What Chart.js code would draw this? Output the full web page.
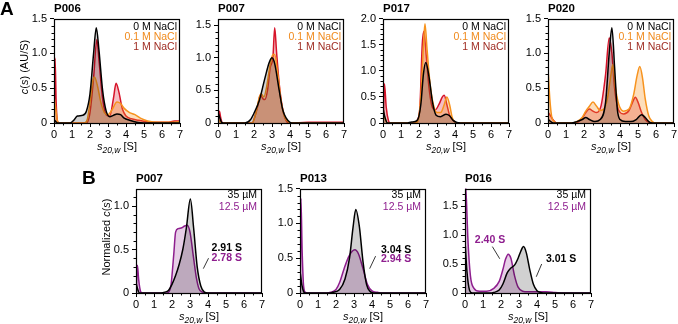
<!DOCTYPE html>
<html>
<head>
<meta charset="utf-8">
<script src="https://cdn.jsdelivr.net/npm/chart.js@4"></script>
<style>
  html, body { margin: 0; padding: 0; background: #fff; }
  #fig { position: relative; width: 678px; height: 324px; overflow: hidden; font-family: "Liberation Sans", Arial, sans-serif; color: #000; }
  #fig canvas { position: absolute; }
  .txt { position: absolute; white-space: nowrap; }
  .letter { font-weight: bold; font-size: 19px; }
  .ptitle { font-weight: bold; font-size: 11.5px; line-height: 14px; }
  .xtitle { font-size: 11px; line-height: 14px; text-align: center; }
  .xtitle sub { font-size: 8.5px; font-style: italic; vertical-align: -3px; }
  .ytitle { font-size: 11px; line-height: 14px; transform: translate(-50%, -50%) rotate(-90deg); }
</style>
</head>
<body>
<div id="fig"></div>
<script>
// x values in S, y values in c(s)
var xTicks = [0, 1, 2, 3, 4, 5, 6, 7];

// A: P006
var p006_0M = [[0,0.05],[0.1,0.02],[0.2,0],[0.9,0],[1.1,0.04],[1.3,0.1],[1.6,0.11],[1.8,0.17],[2.0,0.42],[2.2,1.0],[2.35,1.37],[2.5,1.04],[2.7,0.47],[2.9,0.17],[3.1,0.09],[3.3,0.11],[3.5,0.13],[3.7,0.12],[3.9,0.07],[4.2,0.04],[4.6,0.01],[5,0],[7,0]];
var p006_01M = [[0.02,0.35],[0.1,0.2],[0.2,0.02],[0.3,0],[1.7,0],[1.85,0.05],[2.0,0.3],[2.15,0.6],[2.25,0.66],[2.4,0.55],[2.6,0.3],[2.8,0.15],[3.0,0.12],[3.2,0.18],[3.5,0.3],[3.7,0.28],[3.9,0.21],[4.2,0.15],[4.5,0.12],[4.8,0.07],[5.2,0.03],[5.8,0.01],[6.5,0.01],[7,0.02]];
var p006_1M = [[0.02,0.1],[0.06,0.93],[0.12,0.3],[0.2,0.02],[0.3,0],[1.8,0],[2.0,0.15],[2.2,0.65],[2.38,1.2],[2.5,0.9],[2.7,0.35],[2.9,0.12],[3.1,0.1],[3.3,0.35],[3.45,0.57],[3.6,0.45],[3.8,0.2],[4.0,0.1],[4.3,0.06],[4.7,0.04],[5.5,0.01],[6.3,0.01],[6.7,0.03],[7,0.03]];

// A: P007
var p007_0M = [[0.02,0.15],[0.1,0.08],[0.2,0.01],[0.3,0],[1.5,0],[1.8,0.05],[2.0,0.15],[2.3,0.35],[2.6,0.68],[2.85,0.93],[3.0,1.0],[3.15,0.91],[3.4,0.5],[3.6,0.2],[3.8,0.07],[4.0,0.01],[4.2,0],[7,0]];
var p007_01M = [[0.02,0.05],[0.1,0.03],[0.2,0],[1.9,0],[2.1,0.15],[2.3,0.4],[2.4,0.45],[2.55,0.4],[2.7,0.55],[2.9,0.9],[3.05,1.05],[3.15,1.05],[3.3,0.8],[3.5,0.35],[3.7,0.1],[3.9,0.02],[4.1,0],[7,0]];
var p007_1M = [[0.02,0.05],[0.08,0.18],[0.15,0.08],[0.25,0],[1.9,0],[2.05,0.1],[2.2,0.25],[2.35,0.43],[2.5,0.37],[2.6,0.36],[2.75,0.5],[2.9,0.85],[3.05,1.0],[3.15,1.46],[3.25,1.1],[3.4,0.6],[3.6,0.2],[3.8,0.03],[4.0,0],[5,0.01],[7,0.01]];

// A: P017
var p017_0M = [[0.02,0.25],[0.1,0.12],[0.25,0],[1.3,0],[1.6,0.02],[1.9,0.05],[2.1,0.35],[2.25,0.95],[2.38,1.16],[2.55,0.9],[2.75,0.4],[2.95,0.15],[3.2,0.12],[3.5,0.17],[3.7,0.14],[3.9,0.05],[4.1,0.01],[4.3,0],[7,0]];
var p017_01M = [[0.02,0.2],[0.1,0.1],[0.25,0],[1.8,0],[1.95,0.05],[2.1,0.5],[2.25,1.5],[2.33,1.9],[2.45,1.4],[2.6,0.8],[2.8,0.35],[3.0,0.2],[3.2,0.2],[3.4,0.35],[3.55,0.5],[3.7,0.35],[3.85,0.1],[4.0,0.02],[4.2,0],[7,0]];
var p017_1M = [[0.02,0.1],[0.08,0.75],[0.18,0.3],[0.3,0.05],[0.4,0],[1.8,0],[1.9,0.05],[2.05,0.3],[2.18,1.5],[2.27,1.76],[2.4,1.3],[2.55,0.7],[2.7,0.35],[2.9,0.25],[3.1,0.35],[3.3,0.5],[3.4,0.53],[3.55,0.35],[3.7,0.15],[3.9,0.05],[4.1,0],[7,0]];

// A: P020
var p020_0M = [[0.02,0.05],[0.15,0.02],[0.3,0],[1.3,0],[1.6,0.02],[1.9,0.05],[2.1,0.08],[2.3,0.05],[2.6,0.02],[2.9,0.05],[3.2,0.3],[3.4,1.0],[3.55,1.37],[3.7,0.8],[3.85,0.2],[4.0,0.05],[4.3,0.02],[4.6,0.02],[4.9,0.05],[5.2,0.12],[5.4,0.08],[5.6,0.02],[5.8,0],[7,0]];
var p020_01M = [[0.02,0.7],[0.1,0.35],[0.2,0.1],[0.35,0.02],[0.5,0],[1.3,0],[1.6,0.02],[1.9,0.08],[2.1,0.17],[2.3,0.24],[2.5,0.3],[2.7,0.24],[2.9,0.18],[3.1,0.2],[3.3,0.35],[3.5,0.7],[3.6,0.84],[3.75,0.5],[3.95,0.25],[4.2,0.17],[4.5,0.2],[4.75,0.4],[4.95,0.68],[5.1,0.81],[5.25,0.65],[5.4,0.35],[5.6,0.1],[5.8,0.02],[6,0],[7,0]];
var p020_1M = [[0.02,0.15],[0.15,0.1],[0.3,0.04],[0.5,0],[1.4,0],[1.7,0.02],[1.9,0.07],[2.1,0.15],[2.3,0.2],[2.5,0.17],[2.7,0.15],[2.95,0.25],[3.2,0.7],[3.4,1.22],[3.55,1.0],[3.7,0.5],[3.9,0.2],[4.2,0.13],[4.5,0.18],[4.7,0.3],[4.85,0.37],[5.0,0.3],[5.2,0.15],[5.4,0.05],[5.6,0.01],[5.8,0],[7,0]];

// B: normalized, 35 uM vs 12.5 uM
var b007_35 = [[0.02,0.1],[0.1,0.04],[0.2,0],[1.4,0],[1.6,0.01],[1.8,0.03],[2.0,0.1],[2.2,0.2],[2.4,0.33],[2.6,0.5],[2.8,0.75],[3.02,1.08],[3.2,0.75],[3.4,0.3],[3.6,0.08],[3.8,0.01],[4.0,0],[7,0]];
var b007_125 = [[0.02,0.05],[0.08,0.32],[0.15,0.15],[0.25,0.02],[0.35,0],[1.7,0],[1.85,0.02],[1.95,0.1],[2.1,0.45],[2.2,0.7],[2.35,0.74],[2.55,0.75],[2.7,0.77],[2.85,0.78],[3.0,0.7],[3.2,0.4],[3.35,0.18],[3.5,0.05],[3.7,0.01],[3.9,0],[7,0]];
var b013_35 = [[0.02,0.28],[0.1,0.12],[0.2,0.02],[0.3,0],[1.6,0],[1.8,0.01],[2.2,0.05],[2.5,0.2],[2.75,0.5],[2.95,0.95],[3.1,1.2],[3.3,0.95],[3.5,0.45],[3.7,0.12],[3.9,0.02],[4.1,0],[7,0]];
var b013_125 = [[0.02,0.2],[0.05,1.36],[0.12,0.6],[0.2,0.1],[0.3,0.01],[0.4,0],[1.5,0],[1.7,0.01],[2.0,0.05],[2.2,0.15],[2.45,0.35],[2.7,0.52],[2.9,0.6],[3.05,0.62],[3.25,0.56],[3.5,0.35],[3.75,0.12],[4.0,0.03],[4.3,0.01],[4.6,0],[7,0]];
var b016_35 = [[0.02,0.81],[0.1,0.4],[0.25,0.05],[0.4,0],[1.4,0],[1.6,0.01],[1.9,0.05],[2.1,0.15],[2.35,0.35],[2.55,0.43],[2.75,0.48],[2.95,0.6],[3.1,0.72],[3.25,0.8],[3.4,0.7],[3.6,0.4],[3.8,0.15],[4.0,0.04],[4.2,0.01],[4.5,0],[7,0]];
var b016_125 = [[0.02,1.9],[0.08,1.6],[0.15,1.0],[0.3,0.3],[0.5,0.08],[0.8,0.03],[1.2,0.03],[1.6,0.08],[1.9,0.2],[2.1,0.4],[2.25,0.58],[2.4,0.67],[2.55,0.6],[2.75,0.3],[2.95,0.1],[3.2,0.03],[3.5,0.02],[4.5,0.02],[5,0.01],[5.5,0],[7,0]];

var saltLabels = ["0 M NaCl", "0.1 M NaCl", "1 M NaCl"];
var concLabels = ["35 µM", "12.5 µM"];

var FONT = '"Liberation Sans", Arial, sans-serif';
var BLACK = {line: "#000000", fill: "rgba(0,0,0,0.18)", text: "#000000"};
var ORANGE = {line: "#f7931e", fill: "rgba(247,147,30,0.3)", text: "#f08a1c"};
var RED = {line: "#d7142a", fill: "rgba(215,20,42,0.28)", text: "#9e2a20"};
var PURPLE = {line: "#8e1e8e", fill: "rgba(142,30,142,0.22)", text: "#8e1e8e"};

var YW = 40, XH = 20, PT = 8, PR = 8, PW = 126, PH = 106;
var fig = document.getElementById("fig");

function addText(html, cls, css) {
  var d = document.createElement("div");
  d.className = "txt " + cls;
  d.innerHTML = html;
  for (var k in css) d.style[k] = css[k];
  fig.appendChild(d);
}

function framePlugin(cfg) {
  return {
    id: "frame",
    afterDraw: function(chart) {
      var ctx = chart.ctx, a = chart.chartArea;
      var xs = chart.scales.x, ys = chart.scales.y;
      ctx.save();
      ctx.strokeStyle = "#000";
      ctx.lineWidth = 1;
      // minor ticks
      ctx.beginPath();
      for (var v = 0.5; v < 7; v += 1) {
        var px = Math.round(xs.getPixelForValue(v)) + 0.5;
        ctx.moveTo(px, a.bottom); ctx.lineTo(px, a.bottom + 2.5);
      }
      for (var i = 1; i * 0.1 < cfg.ymax; i++) {
        if (i % 5 === 0) continue;
        var py = Math.round(ys.getPixelForValue(i * 0.1)) + 0.5;
        ctx.moveTo(a.left, py); ctx.lineTo(a.left - 2.5, py);
      }
      ctx.stroke();
      // box
      ctx.lineWidth = 1.2;
      ctx.strokeRect(Math.round(a.left) + 0.5, Math.round(a.top) + 0.5, Math.round(a.right - a.left) - 1, Math.round(a.bottom - a.top));
      // legend
      ctx.font = cfg.legendSize + "px " + FONT;
      ctx.textAlign = "right";
      ctx.textBaseline = "middle";
      cfg.legend.forEach(function(l, k) {
        ctx.fillStyle = l.color;
        ctx.fillText(l.text, a.right - cfg.legendInset, a.top + cfg.legendTop + k * cfg.legendGap);
      });
      // value notes
      (cfg.leaders || []).forEach(function(s) {
        ctx.beginPath();
        ctx.lineWidth = 0.9;
        ctx.strokeStyle = "#222";
        ctx.moveTo(xs.getPixelForValue(s[0]), ys.getPixelForValue(s[1]));
        ctx.lineTo(xs.getPixelForValue(s[2]), ys.getPixelForValue(s[3]));
        ctx.stroke();
      });
      ctx.font = "bold 10.5px " + FONT;
      (cfg.notes || []).forEach(function(n) {
        ctx.fillStyle = n.color;
        ctx.textAlign = n.align;
        ctx.fillText(n.text, xs.getPixelForValue(n.x), ys.getPixelForValue(n.y));
      });
      ctx.restore();
    }
  };
}

function makePanel(cfg) {
  var cv = document.createElement("canvas");
  cv.width = YW + PW + PR;
  cv.height = PT + PH + XH;
  cv.style.left = (cfg.left - YW) + "px";
  cv.style.top = (cfg.top - PT) + "px";
  fig.appendChild(cv);

  addText(cfg.title, "ptitle", {left: cfg.left + "px", top: (cfg.top - 16) + "px"});
  addText("<i>s</i><sub>20,w</sub> [S]", "xtitle", {left: cfg.left + "px", width: PW + "px", top: (cfg.top + PH + 16) + "px"});

  var tickFont = {size: 11, family: FONT};
  new Chart(cv, {
    type: "line",
    data: {
      datasets: cfg.series.map(function(s) {
        return {
          data: s.pts.map(function(p) { return {x: p[0], y: p[1]}; }),
          borderColor: s.c.line,
          backgroundColor: s.c.fill,
          fill: "origin",
          borderWidth: 1.5,
          pointRadius: 0,
          cubicInterpolationMode: "monotone"
        };
      })
    },
    options: {
      responsive: false,
      animation: false,
      events: [],
      layout: {autoPadding: false, padding: {top: PT, right: PR, left: 0, bottom: 0}},
      plugins: {legend: {display: false}, tooltip: {enabled: false}},
      scales: {
        x: {
          type: "linear", min: 0, max: 7,
          afterBuildTicks: function(s) { s.ticks = xTicks.map(function(v) { return {value: v}; }); },
          ticks: {font: tickFont, color: "#000", padding: 1, maxRotation: 0, autoSkip: false},
          grid: {drawOnChartArea: false, tickLength: 4, color: "#000", tickWidth: 1},
          border: {display: false},
          afterFit: function(s) { s.height = XH; }
        },
        y: {
          type: "linear", min: 0, max: cfg.ymax,
          ticks: {stepSize: 0.5, includeBounds: false, font: tickFont, color: "#000", padding: 3,
            callback: function(v) { return v === 0 ? "0" : v.toFixed(1); }},
          grid: {drawOnChartArea: false, tickLength: 4, color: "#000", tickWidth: 1},
          border: {display: false},
          afterFit: function(s) { s.width = YW; }
        }
      }
    },
    plugins: [framePlugin(cfg)]
  });
}

var saltLegend = [
  {text: saltLabels[0], color: BLACK.text},
  {text: saltLabels[1], color: ORANGE.text},
  {text: saltLabels[2], color: RED.text}
];
var concLegend = [
  {text: concLabels[0], color: BLACK.text},
  {text: concLabels[1], color: PURPLE.text}
];
var aLeg = {legend: saltLegend, legendSize: 10.5, legendInset: 3, legendTop: 9, legendGap: 9.6};
var bLeg = {legend: concLegend, legendSize: 10.5, legendInset: 5, legendTop: 7, legendGap: 11.5};

function withLeg(base, leg) { for (var k in leg) base[k] = leg[k]; return base; }

makePanel(withLeg({title: "P006", left: 54, top: 17, ymax: 1.5,
  series: [{pts: p006_0M, c: BLACK}, {pts: p006_01M, c: ORANGE}, {pts: p006_1M, c: RED}]}, aLeg));
makePanel(withLeg({title: "P007", left: 218, top: 17, ymax: 1.6,
  series: [{pts: p007_0M, c: BLACK}, {pts: p007_01M, c: ORANGE}, {pts: p007_1M, c: RED}]}, aLeg));
makePanel(withLeg({title: "P017", left: 383, top: 17, ymax: 2.0,
  series: [{pts: p017_0M, c: BLACK}, {pts: p017_01M, c: ORANGE}, {pts: p017_1M, c: RED}]}, aLeg));
makePanel(withLeg({title: "P020", left: 548, top: 17, ymax: 1.5,
  series: [{pts: p020_0M, c: BLACK}, {pts: p020_01M, c: ORANGE}, {pts: p020_1M, c: RED}]}, aLeg));

makePanel(withLeg({title: "P007", left: 136, top: 187, ymax: 1.2,
  series: [{pts: b007_35, c: BLACK}, {pts: b007_125, c: PURPLE}],
  leaders: [[3.74, 0.28, 4.03, 0.4]],
  notes: [{text: "2.91 S", x: 4.2, y: 0.52, color: "#000", align: "left"},
          {text: "2.78 S", x: 4.2, y: 0.40, color: PURPLE.text, align: "left"}]}, bLeg));
makePanel(withLeg({title: "P013", left: 300, top: 187, ymax: 1.5,
  series: [{pts: b013_35, c: BLACK}, {pts: b013_125, c: PURPLE}],
  leaders: [[3.87, 0.35, 4.2, 0.53]],
  notes: [{text: "3.04 S", x: 4.5, y: 0.62, color: "#000", align: "left"},
          {text: "2.94 S", x: 4.5, y: 0.48, color: PURPLE.text, align: "left"}]}, bLeg));
makePanel(withLeg({title: "P016", left: 465, top: 187, ymax: 1.8,
  series: [{pts: b016_35, c: BLACK}, {pts: b016_125, c: PURPLE}],
  leaders: [[1.52, 0.8, 1.93, 0.59], [3.96, 0.28, 4.26, 0.5]],
  notes: [{text: "2.40 S", x: 1.39, y: 0.92, color: PURPLE.text, align: "center"},
          {text: "3.01 S", x: 4.5, y: 0.59, color: "#000", align: "left"}]}, bLeg));

addText("A", "letter", {left: "0px", top: "-2px"});
addText("B", "letter", {left: "82px", top: "167px"});
addText("<i>c</i>(<i>s</i>) (AU/S)", "ytitle", {left: "24px", top: "67px"});
addText("Normalized <i>c</i>(<i>s</i>)", "ytitle", {left: "106px", top: "237px"});
</script>
</body>
</html>
